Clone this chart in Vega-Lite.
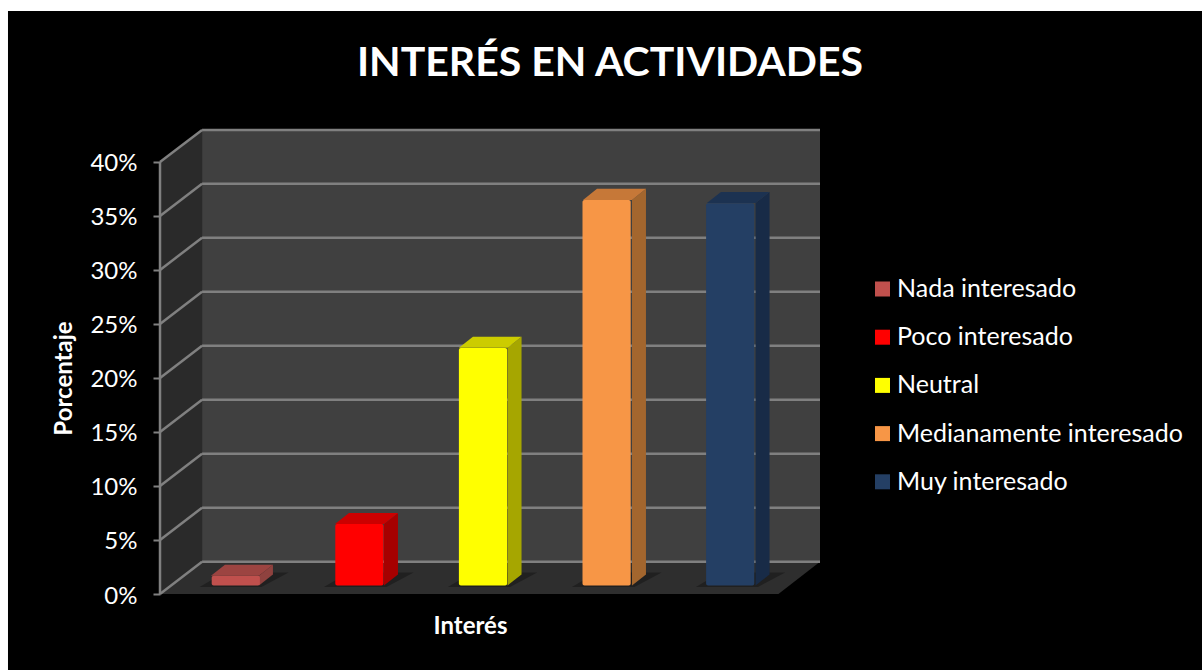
{"$schema":"https://vega.github.io/schema/vega-lite/v6.json","width":660,"height":464,"autosize":{"type":"none"},"padding":{"left":160,"top":130,"right":382,"bottom":76},"background":"#000000","config":{"view":{"stroke":null},"font":"Lato"},"title":{"text":"INTERÉS EN ACTIVIDADES","anchor":"middle","dx":120,"offset":-85,"font":"Lato","fontSize":41,"fontWeight":"bold","color":"#ffffff"},
"datasets":{
"barras":[{"interes":"Nada interesado","valor":0.9},{"interes":"Poco interesado","valor":5.7},{"interes":"Neutral","valor":22},{"interes":"Medianamente interesado","valor":35.7},{"interes":"Muy interesado","valor":35.4}],
"bordes":[{"desde":-1.294,"hasta":8.43,"bajo":53.98,"alto":55},{"desde":-1.294,"hasta":-1.229,"bajo":-7.04,"alto":55}],
"fondo":[{"desde":0.34,"hasta":5.336,"bajo":2.99,"alto":42.96}],
"lateral":[{"pos":0,"alto":40,"bajo":0},{"pos":0.34,"alto":42.96,"bajo":2.99}],
"suelo":[{"nivel":0,"desde":0,"hasta":5},{"nivel":2.99,"desde":0.34,"hasta":5.336}],
"rejilla":[{"marca":0,"fondo":2.99},{"marca":5,"fondo":7.99},{"marca":10,"fondo":12.99},{"marca":15,"fondo":17.99},{"marca":20,"fondo":22.99},{"marca":25,"fondo":27.99},{"marca":30,"fondo":32.99},{"marca":35,"fondo":37.99},{"marca":40,"fondo":42.96}],
"sombras":[{"interes":"Nada interesado","nivel":0.65,"desde":0.32,"hasta":0.82},{"interes":"Nada interesado","nivel":2.0,"desde":0.52,"hasta":1.04},
{"interes":"Poco interesado","nivel":0.65,"desde":1.325,"hasta":1.831},{"interes":"Poco interesado","nivel":2.0,"desde":1.525,"hasta":2.051},
{"interes":"Neutral","nivel":0.65,"desde":2.327,"hasta":2.83},{"interes":"Neutral","nivel":2.0,"desde":2.527,"hasta":3.05},
{"interes":"Medianamente interesado","nivel":0.65,"desde":3.33,"hasta":3.836},{"interes":"Medianamente interesado","nivel":2.0,"desde":3.53,"hasta":4.056},
{"interes":"Muy interesado","nivel":0.65,"desde":4.332,"hasta":4.835},{"interes":"Muy interesado","nivel":2.0,"desde":4.532,"hasta":5.055}],
"lados":[{"tono":"Nada lado","pos":0.80,"alto":1.69,"bajo":0.79},{"tono":"Nada lado","pos":0.913,"alto":2.71,"bajo":1.81},
{"tono":"Poco lado","pos":1.811,"alto":6.49,"bajo":0.79},{"tono":"Poco lado","pos":1.924,"alto":7.51,"bajo":1.81},
{"tono":"Neutral lado","pos":2.81,"alto":22.79,"bajo":0.79},{"tono":"Neutral lado","pos":2.923,"alto":23.81,"bajo":1.81},
{"tono":"Media lado","pos":3.816,"alto":36.49,"bajo":0.79},{"tono":"Media lado","pos":3.929,"alto":37.51,"bajo":1.81},
{"tono":"Muy lado","pos":4.815,"alto":36.19,"bajo":0.79},{"tono":"Muy lado","pos":4.928,"alto":37.21,"bajo":1.81}],
"tapas":[{"tono":"Nada tapa","nivel":1.69,"desde":0.412,"hasta":0.80},{"tono":"Nada tapa","nivel":2.71,"desde":0.525,"hasta":0.913},
{"tono":"Poco tapa","nivel":6.49,"desde":1.415,"hasta":1.811},{"tono":"Poco tapa","nivel":7.51,"desde":1.528,"hasta":1.924},
{"tono":"Neutral tapa","nivel":22.79,"desde":2.417,"hasta":2.81},{"tono":"Neutral tapa","nivel":23.81,"desde":2.53,"hasta":2.923},
{"tono":"Media tapa","nivel":36.49,"desde":3.42,"hasta":3.816},{"tono":"Media tapa","nivel":37.51,"desde":3.533,"hasta":3.929},
{"tono":"Muy tapa","nivel":36.19,"desde":4.422,"hasta":4.815},{"tono":"Muy tapa","nivel":37.21,"desde":4.535,"hasta":4.928}]
},
"layer":[
{"layer":[
{"data":{"name":"bordes"},"mark":{"type":"rect","color":"#ffffff"},"encoding":{
"x":{"field":"desde","type":"quantitative","scale":{"domain":[0,5.336]},"axis":{"title":"Interés","labels":false,"ticks":false,"domain":false,"grid":false,"titleColor":"#ffffff","titleFont":"Lato","titleFontSize":24,"titleFontWeight":"bold","titleX":310,"titleY":39,"titleBaseline":"alphabetic","titleAnchor":"middle","zindex":1}},"x2":{"field":"hasta"},
"y":{"field":"bajo","type":"quantitative","scale":{"domain":[0,42.96]},"axis":{"title":"Porcentaje","values":[0,5,10,15,20,25,30,35,40],"labelExpr":"datum.value + '%'","grid":false,"domain":false,"tickColor":"#808080","tickWidth":2,"tickSize":7,"labelPadding":16,"labelOffset":2,"labelColor":"#ffffff","labelFont":"Lato","labelFontSize":24,"titleColor":"#ffffff","titleFont":"Lato","titleFontSize":24,"titleFontWeight":"bold","titleX":-84,"titleY":248,"titleAnchor":"middle","zindex":1}},"y2":{"field":"alto"}}},
{"data":{"name":"fondo"},"mark":{"type":"rect","color":"#404040"},"encoding":{"x":{"field":"desde","type":"quantitative","scale":{"domain":[0,5.336]}},"x2":{"field":"hasta"},"y":{"field":"bajo","type":"quantitative","scale":{"domain":[0,42.96]}},"y2":{"field":"alto"}}},
{"data":{"name":"lateral"},"mark":{"type":"area","color":"#2a2a2a","opacity":1},"encoding":{"x":{"field":"pos","type":"quantitative","scale":{"domain":[0,5.336]}},"y":{"field":"alto","type":"quantitative","stack":null,"scale":{"domain":[0,42.96]}},"y2":{"field":"bajo"}}},
{"data":{"name":"suelo"},"mark":{"type":"area","orient":"horizontal","color":"#2e2e2e","opacity":1},"encoding":{"y":{"field":"nivel","type":"quantitative","scale":{"domain":[0,42.96]}},"x":{"field":"desde","type":"quantitative","stack":null,"scale":{"domain":[0,5.336]}},"x2":{"field":"hasta"}}},
{"data":{"name":"rejilla"},"mark":{"type":"rule","color":"#808080","strokeWidth":2.5},"encoding":{"x":{"datum":0,"type":"quantitative","scale":{"domain":[0,5.336]}},"x2":{"datum":0.34},"y":{"field":"marca","type":"quantitative","scale":{"domain":[0,42.96]}},"y2":{"field":"fondo"}}},
{"data":{"name":"rejilla"},"mark":{"type":"rule","color":"#808080","strokeWidth":2.5},"encoding":{"x":{"datum":0.34,"type":"quantitative","scale":{"domain":[0,5.336]}},"x2":{"datum":5.336},"y":{"field":"fondo","type":"quantitative","scale":{"domain":[0,42.96]}}}},
{"data":{"values":[{"desde":0,"hasta":40}]},"mark":{"type":"rule","color":"#808080","strokeWidth":2.5},"encoding":{"x":{"datum":0,"type":"quantitative","scale":{"domain":[0,5.336]}},"y":{"field":"desde","type":"quantitative","scale":{"domain":[0,42.96]}},"y2":{"field":"hasta"}}},
{"data":{"name":"sombras"},"mark":{"type":"area","orient":"horizontal","color":"#000000","opacity":0.3},"encoding":{"detail":{"field":"interes"},"y":{"field":"nivel","type":"quantitative","scale":{"domain":[0,42.96]}},"x":{"field":"desde","type":"quantitative","stack":null,"scale":{"domain":[0,5.336]}},"x2":{"field":"hasta"}}},
{"data":{"name":"lados"},"mark":{"type":"area","opacity":1},"encoding":{"color":{"field":"tono","type":"nominal","legend":null,"scale":{"domain":["Nada lado","Poco lado","Neutral lado","Media lado","Muy lado","Nada tapa","Poco tapa","Neutral tapa","Media tapa","Muy tapa"],"range":["#8f423f","#a60000","#a6a600","#a3662e","#182b47","#9c4441","#cc0000","#cccc00","#c67838","#1c3251"]}},"x":{"field":"pos","type":"quantitative","scale":{"domain":[0,5.336]}},"y":{"field":"alto","type":"quantitative","stack":null,"scale":{"domain":[0,42.96]}},"y2":{"field":"bajo"}}},
{"data":{"name":"tapas"},"mark":{"type":"area","orient":"horizontal","opacity":1},"encoding":{"color":{"field":"tono","type":"nominal","legend":null,"scale":{"domain":["Nada lado","Poco lado","Neutral lado","Media lado","Muy lado","Nada tapa","Poco tapa","Neutral tapa","Media tapa","Muy tapa"],"range":["#8f423f","#a60000","#a6a600","#a3662e","#182b47","#9c4441","#cc0000","#cccc00","#c67838","#1c3251"]}},"y":{"field":"nivel","type":"quantitative","scale":{"domain":[0,42.96]}},"x":{"field":"desde","type":"quantitative","stack":null,"scale":{"domain":[0,5.336]}},"x2":{"field":"hasta"}}}
]},
{"data":{"name":"barras"},"mark":{"type":"bar","yOffset":-8.5,"y2Offset":-8.5,"cornerRadius":2},"encoding":{
"x":{"field":"interes","type":"nominal","axis":null,"sort":null,"scale":{"type":"band","domain":["Nada interesado","Poco interesado","Neutral","Medianamente interesado","Muy interesado"],"range":[14,632],"paddingInner":0.61,"paddingOuter":0.305}},
"y":{"field":"valor","type":"quantitative","stack":null,"scale":{"domain":[0,42.96]}},"y2":{"datum":0},
"color":{"field":"interes","type":"nominal","scale":{"domain":["Nada interesado","Poco interesado","Neutral","Medianamente interesado","Muy interesado"],"range":["#c0504d","#ff0000","#ffff00","#f79646","#243f64"]},
"legend":{"orient":"none","legendX":710,"legendY":146.5,"title":null,"symbolType":"square","symbolSize":225,"symbolStrokeWidth":0,"symbolOpacity":1,"labelColor":"#ffffff","labelFont":"Lato","labelFontSize":25,"labelOffset":2,"rowPadding":22.2,"labelLimit":320}}}}
],
"resolve":{"scale":{"x":"independent","color":"independent"},"axis":{"x":"independent"}}}
